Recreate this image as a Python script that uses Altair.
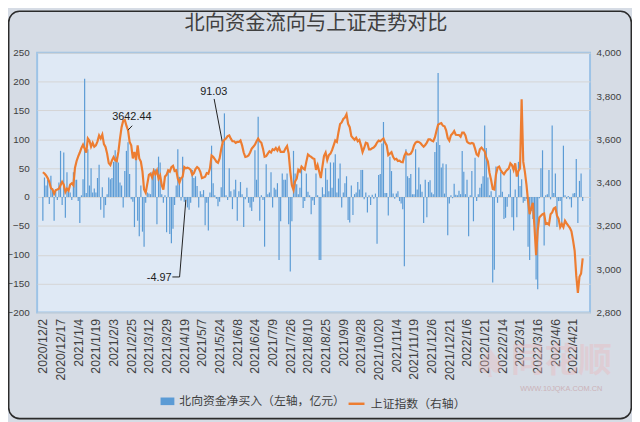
import altair as alt
import pandas as pd

TITLE = "北向资金流向与上证走势对比"
BAR_NAME = "北向资金净买入（左轴，亿元）"
LINE_NAME = "上证指数（右轴）"

TICK_LABELS = [
    "2020/12/2", "2020/12/17", "2021/1/4", "2021/1/19", "2021/2/3", "2021/2/25",
    "2021/3/12", "2021/3/29", "2021/4/19", "2021/5/7", "2021/5/24", "2021/6/8",
    "2021/6/24", "2021/7/9", "2021/7/26", "2021/8/10", "2021/8/25", "2021/9/9",
    "2021/9/28", "2021/10/20", "2021/11/4", "2021/11/19", "2021/12/6", "2021/12/21",
    "2022/1/6", "2022/1/21", "2022/2/14", "2022/3/1", "2022/3/16", "2022/4/6",
    "2022/4/21",
]
TICK_STEP = 11

# 北向资金净买入（亿元），每个交易日一个值
NET_FLOW = [
    -41, 34, 20, 30, -12, 37, 15, -41, 10, -5,
    25, 80, -14, 77, -36, 43, 10, 8, -5, 43,
    30, 30, -7, -45, 3, 31, 205, 7, 83, 20,
    50, 8, 15, 8, 33, 56, -22, 17, -36, -14,
    5, 34, 31, 33, 61, 81, 70, 60, 25, 20,
    -18, 45, 80, 95, 40, -4, -8, -52, 67, -41,
    -68, 20, -60, -86, -10, 8, 6, 5, 44, 50,
    48, -47, 70, 60, 5, -10, 3, -61, 47, -64,
    -80, -55, -14, 20, 83, 35, -6, 70, -8, -4.97,
    -18, -22, -10, 47, 33, 36, 19, -18, 10, 5,
    12, -49, -10, -58, 8, 89, 24, 3, -3, -16,
    -8, 17, 91.03, 145, 3, -5, 50, 10, -21, 13,
    30, -41, 10, 26, 5, -52, -4, 16, -10, -18,
    -24, -8, 81, 30, 139, -41, 3, -5, -86, 57,
    5, 8, 43, -18, 16, 13, 24, -109, -42, 41,
    30, 30, 41, -47, -129, -42, 80, 41, 22, 5,
    16, 50, -19, -7, 41, 9, 3, -30, -6, -14,
    41, 3, -109, -109, 17, 5, 50, 30, 10, 60,
    16, 60, 74, 8, 32, 58, -18, 8, 24, 36,
    -40, -44, 20, -31, 5, 8, 26, 13, 47, 47,
    -4, 8, -27, 3, -14, 4, -3, 6, -81, 38,
    40, 93, 130, 7, 7, -32, 70, 45, 6, -3,
    6, 10, -7, -11, -21, -120, 83, 36, 33, 40,
    5, 5, 83, 13, 51, 22, 9, -45, 30, -35,
    26, 29, 8, 5, 78, 95, 215, 90, 51, 58,
    6, 57, -66, -11, 3, -2, 23, 4, 3, 11,
    5, 80, 44, 5, 30, -68, 3, 45, -42, 68,
    -7, 5, 16, 23, 36, 124, 85, 34, 3, 10,
    -148, -126, 53, -10, 3, 44, 9, -38, -36, -17,
    5, 48, -35, -58, 13, -35, 61, 19, 31, -10,
    -7, -3, -86, -109, -24, -38, -49, -143, -160, -2,
    50, 81, -84, 3, 5, 47, -4, 124, 7, 41,
    -52, -7, -7, -47, 89, 3, -3, 2, -4, -18,
    6, 7, 66, -45, 28, 41, -7,
]

# 上证指数收盘
SH_INDEX = [
    3448, 3442, 3433, 3421, 3403, 3375, 3369, 3348, 3365, 3368,
    3372, 3388, 3404, 3391, 3357, 3372, 3363, 3391, 3397, 3388,
    3469, 3500, 3521, 3539, 3560, 3575, 3557, 3539, 3604, 3594,
    3566, 3584, 3566, 3572, 3591, 3618, 3604, 3622, 3578, 3565,
    3534, 3490, 3481, 3503, 3518, 3504, 3500, 3542, 3603, 3656,
    3686, 3690, 3663, 3642.44, 3588, 3572, 3512, 3542, 3504, 3572,
    3512, 3497, 3451, 3368, 3353, 3394, 3436, 3441, 3424, 3454,
    3439, 3456, 3418, 3433, 3388, 3368, 3428, 3436, 3457, 3451,
    3472, 3478, 3454, 3457, 3418, 3400, 3421, 3427, 3472, 3466,
    3469, 3466, 3459, 3436, 3444, 3463, 3472, 3466, 3450, 3421,
    3424, 3427, 3444, 3441, 3466, 3525, 3519, 3509, 3497, 3492,
    3512, 3554, 3588, 3598, 3604, 3615, 3618, 3603, 3591, 3591,
    3584, 3588, 3588, 3595, 3572, 3539, 3519, 3521, 3525, 3539,
    3557, 3566, 3575, 3591, 3603, 3591, 3584, 3557, 3519, 3522,
    3534, 3545, 3539, 3554, 3550, 3560, 3548, 3562, 3542, 3542,
    3542, 3557, 3569, 3534, 3451, 3388, 3366, 3406, 3418, 3459,
    3451, 3474, 3466, 3460, 3497, 3530, 3524, 3519, 3512, 3509,
    3459, 3481, 3451, 3421, 3474, 3524, 3539, 3504, 3527, 3534,
    3550, 3572, 3595, 3588, 3633, 3671, 3678, 3694, 3701, 3716,
    3671, 3656, 3615, 3606, 3598, 3607, 3591, 3597, 3572, 3541,
    3560, 3585, 3582, 3554, 3554, 3559, 3563, 3571, 3585, 3594,
    3591, 3598, 3604, 3585, 3572, 3527, 3534, 3541, 3519, 3507,
    3510, 3500, 3501, 3495, 3494, 3524, 3539, 3530, 3530, 3534,
    3547, 3572, 3585, 3589, 3588, 3583, 3574, 3566, 3574, 3585,
    3600, 3600, 3594, 3591, 3609, 3640, 3668, 3672, 3675, 3663,
    3660, 3642, 3606, 3594, 3619, 3627, 3638, 3621, 3620, 3620,
    3612, 3631, 3631, 3618, 3589, 3583, 3580, 3583, 3580, 3557,
    3530, 3524, 3554, 3562, 3553, 3545, 3515, 3497, 3445, 3412,
    3371, 3368, 3436, 3469, 3474, 3457, 3447, 3439, 3451, 3459,
    3466, 3489, 3481, 3459, 3489, 3428, 3454, 3466, 3785, 3497,
    3451, 3391, 3315, 3254, 3285, 3307, 3194, 3065, 3178, 3239,
    3247, 3254, 3257, 3209, 3212, 3206, 3254, 3262, 3280, 3285,
    3247, 3232, 3194, 3209, 3194, 3224, 3212, 3201, 3191, 3175,
    3133, 3085, 2970, 2890, 2965, 2980, 3050,
]

# 标注（文字位置与引线端点，按数据坐标）
BAR_ANN_LABELS = ["91.03", "-4.97"]
BAR_ANN_IDX = [106.4, 72.4]
BAR_ANN_VAL = [182, -141]
BAR_LEADER_GROUP = ["a", "a", "b", "b", "b"]
BAR_LEADER_IDX = [106.6, 112, 80.6, 85.1, 89]
BAR_LEADER_VAL = [170, 91.03, -138.5, -138.5, -4.97]

LINE_ANN_LABELS = ["3642.44"]
LINE_ANN_IDX = [55.4]
LINE_ANN_VAL = [3701]
LINE_LEADER_IDX = [55.6, 53]
LINE_LEADER_VAL = [3663, 3642.44]

BLUE = "#5b9bd5"
ORANGE = "#ed7d31"
TXT = "#404040"
CJK = "Noto Sans CJK SC"
NUM = "Liberation Sans"

idx = list(range(len(NET_FLOW)))
bars_df = pd.DataFrame({"idx": idx, "flow": NET_FLOW, "name": BAR_NAME})
line_df = pd.DataFrame({"idx": idx, "sh": SH_INDEX, "name": LINE_NAME})
bar_ann_df = pd.DataFrame({"idx": BAR_ANN_IDX, "flow": BAR_ANN_VAL, "label": BAR_ANN_LABELS})
bar_lead_df = pd.DataFrame({"idx": BAR_LEADER_IDX, "flow": BAR_LEADER_VAL,
                            "grp": BAR_LEADER_GROUP, "ord": list(range(len(BAR_LEADER_IDX)))})
line_ann_df = pd.DataFrame({"idx": LINE_ANN_IDX, "sh": LINE_ANN_VAL, "label": LINE_ANN_LABELS})
line_lead_df = pd.DataFrame({"idx": LINE_LEADER_IDX, "sh": LINE_LEADER_VAL,
                             "ord": list(range(len(LINE_LEADER_IDX)))})
one = pd.DataFrame({"k": [0]})

label_js = "[" + ",".join("'" + t + "'" for t in TICK_LABELS) + "]"
x_scale = alt.Scale(domain=[-0.5, 337.5], nice=False, zero=False)
x_axis = alt.Axis(
    values=[i * TICK_STEP for i in range(len(TICK_LABELS))],
    labelExpr=label_js + "[round(datum.value / " + str(TICK_STEP) + ")]",
    labelAngle=270, labelAlign="right", labelBaseline="middle",
    labelFlush=False, labelOverlap=False, labelPadding=6,
    labelFont=NUM, labelFontSize=12.5, labelColor=TXT,
    grid=False, ticks=False, domain=False, title=None,
)
X = alt.X("idx:Q", scale=x_scale, axis=x_axis)

yl_scale = alt.Scale(domain=[-200, 250], nice=False)
yl_axis = alt.Axis(values=list(range(-200, 251, 50)), grid=True, gridColor="#d4d4d4",
                   gridWidth=1, domain=False, ticks=False, labelPadding=8,
                   labelOverlap=False, labelFlush=False,
                   labelFont=NUM, labelFontSize=10, labelColor=TXT, title=None)
yr_scale = alt.Scale(domain=[2800, 4000], nice=False, zero=False)
yr_axis = alt.Axis(orient="right", values=list(range(2800, 4001, 200)),
                   labelExpr="format(datum.value, ',')", format=",",
                   labelOverlap=False, labelFlush=False,
                   grid=False, domain=False, ticks=False, labelPadding=6,
                   labelFont=NUM, labelFontSize=10, labelColor=TXT, title=None)

YL = alt.Y("flow:Q", scale=yl_scale, axis=yl_axis)
YR = alt.Y("sh:Q", scale=yr_scale, axis=yr_axis)

bars = alt.Chart(bars_df).mark_bar(size=1.2).encode(
    x=X, y=YL,
    color=alt.Color("name:N", scale=alt.Scale(domain=[BAR_NAME], range=[BLUE]),
                    legend=alt.Legend(orient="none", legendX=125, legendY=346,
                                      title=None, symbolType="M-1,-0.55H1V0.55H-1Z",
                                      symbolSize=196, symbolStrokeWidth=0,
                                      labelOffset=5, padding=0, labelLimit=0)),
)
bar_text = alt.Chart(bar_ann_df).mark_text(font=NUM, fontSize=11, color="#202020").encode(
    x=X, y=YL, text="label:N")
bar_lead = alt.Chart(bar_lead_df).mark_line(color="#202020", strokeWidth=1).encode(
    x=X, y=YL, detail="grp:N", order="ord:Q")
left = alt.layer(bars, bar_lead, bar_text)

line = alt.Chart(line_df).mark_line(strokeWidth=2.2).encode(
    x=X, y=YR,
    color=alt.Color("name:N", scale=alt.Scale(domain=[LINE_NAME], range=[ORANGE]),
                    legend=alt.Legend(orient="none", legendX=314, legendY=346,
                                      title=None, symbolType="stroke",
                                      symbolSize=260, symbolStrokeWidth=2.5,
                                      labelOffset=5, padding=0, labelLimit=0)),
)
line_text = alt.Chart(line_ann_df).mark_text(font=NUM, fontSize=11, color="#202020").encode(
    x=X, y=YR, text="label:N")
line_lead = alt.Chart(line_lead_df).mark_line(color="#202020", strokeWidth=1).encode(
    x=X, y=YR, order="ord:Q")
right = alt.layer(line, line_lead, line_text)

title = alt.Chart(one).mark_text(font=CJK, fontSize=20.5, color=TXT,
                                 align="center", baseline="middle").encode(
    x=alt.value(282.5), y=alt.value(-29), text=alt.value(TITLE))
frame = alt.Chart(one).mark_rect(cornerRadius=11, fillOpacity=0, stroke="#2b2b2b",
                                 strokeWidth=1.6).encode(
    x=alt.value(-28.8), x2=alt.value(601.8), y=alt.value(-42), y2=alt.value(370.5))
wm1 = alt.Chart(one).mark_text(font=CJK, fontSize=34, fontWeight="bold", color="#eab9bd",
                               opacity=0.4, align="center", baseline="middle").encode(
    x=alt.value(531), y=alt.value(313), text=alt.value("同花顺"))
wm2 = alt.Chart(one).mark_text(font=NUM, fontSize=7.5, color="#c8a2a6", opacity=0.7,
                               align="center", baseline="middle").encode(
    x=alt.value(531), y=alt.value(341), text=alt.value("WWW.10JQKA.COM.CN"))
wm3 = alt.Chart(one).mark_text(font="DejaVu Sans", fontSize=40, color="#eab9bd",
                               opacity=0.35, align="center", baseline="middle").encode(
    x=alt.value(459), y=alt.value(316), text=alt.value("♠"))

chart = alt.layer(left, right, wm3, wm1, wm2, title, frame).resolve_scale(
    y="independent", color="independent"
).resolve_legend(color="independent").properties(
    width=560, height=263,
    padding={"left": 29.5, "top": 42.7, "right": 42.5, "bottom": 108.3},
    autosize=alt.AutoSizeParams(type="none"),
    background="#d6dce5",
).configure_view(
    fill="#dfe9f5", stroke="#9dc3e6", strokeWidth=2
).configure_legend(
    labelFont=CJK, labelFontSize=12, labelColor=TXT, orient="none"
)

chart.save("out.html", embed_options={"renderer": "svg", "actions": False})
